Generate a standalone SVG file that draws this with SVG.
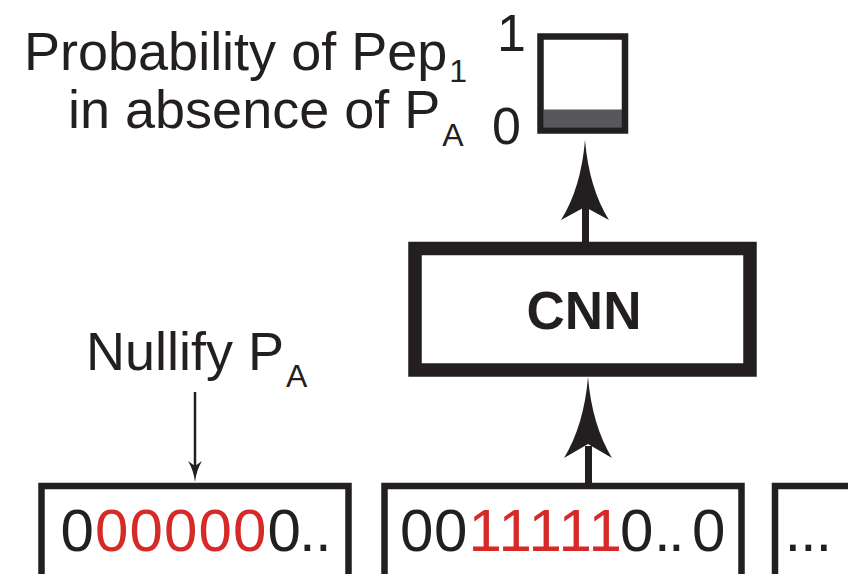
<svg xmlns="http://www.w3.org/2000/svg" width="848" height="574" viewBox="0 0 848 574">
<defs>
<style>
.t{font-family:"Liberation Sans",Arial,sans-serif;fill:#231f20}
.red{fill:#d52a27}
.box{fill:none;stroke:#231f20}
.ah{fill:#231f20}
</style>
</defs>
<rect width="848" height="574" fill="#ffffff"/>
<g id="label-prob">
<text class="t" x="24" y="70" font-size="54">Probability of Pep<tspan font-size="32" dx="2" dy="12">1</tspan></text>
<text class="t" x="68" y="128" font-size="54">in absence of P<tspan font-size="32" dx="2" dy="18">A</tspan></text>
<text class="t" x="497" y="51" font-size="52">1</text>
<text class="t" x="492" y="144" font-size="52">0</text>
</g>
<g id="prob-bar">
<rect x="543.5" y="109.5" width="79" height="18" fill="#58585a"/>
<rect class="box" x="540.5" y="36.5" width="84.5" height="94" stroke-width="6.5"/>
</g>
<g id="cnn">
<rect class="box" x="415" y="248.5" width="335" height="121.5" stroke-width="13.5"/>
<text class="t" x="584" y="329" font-size="53" font-weight="bold" text-anchor="middle">CNN</text>
</g>
<g id="nullify">
<text class="t" x="86" y="370" font-size="54">Nullify P<tspan font-size="32" dx="2" dy="17">A</tspan></text>
</g>
<g id="seq1">
<rect class="box" x="41.5" y="486" width="307" height="130" stroke-width="6.5"/>
<text class="t" y="551" font-size="60"><tspan x="60.5">0</tspan><tspan class="red" x="95 129.5 164 198.5 233">00000</tspan><tspan x="267.5 299 315">0..</tspan></text>
</g>
<g id="seq2">
<rect class="box" x="384.5" y="486" width="357" height="130" stroke-width="6.5"/>
<text class="t" y="551" font-size="60"><tspan x="400 434">00</tspan><tspan class="red" x="468.5 498.5 528.5 558.5 588.5">11111</tspan><tspan x="620 654 668 692">0..0</tspan></text>
</g>
<g id="seq3">
<rect class="box" x="775" y="486" width="120" height="130" stroke-width="6.5"/>
<text class="t" y="551" font-size="60"><tspan x="784.5 800 815.5">...</tspan></text>
</g>
<g id="connectors">
<line x1="195" y1="392" x2="195" y2="468" stroke="#231f20" stroke-width="2.5"/>
<path class="ah" d="M195,482 Q193.5,470 188,461 L195,466 L202,461 Q196.5,470 195,482 Z"/>
<line x1="588.5" y1="483" x2="588.5" y2="446" stroke="#231f20" stroke-width="7"/>
<path class="ah" d="M588,377 Q584,425 564,458 L588,444 L612,458 Q592,425 588,377 Z"/>
<line x1="585.5" y1="242" x2="585.5" y2="207" stroke="#231f20" stroke-width="7"/>
<path class="ah" d="M585,140 Q581,188 561,220 L585,207 L609,220 Q589,188 585,140 Z"/>
</g>
</svg>
